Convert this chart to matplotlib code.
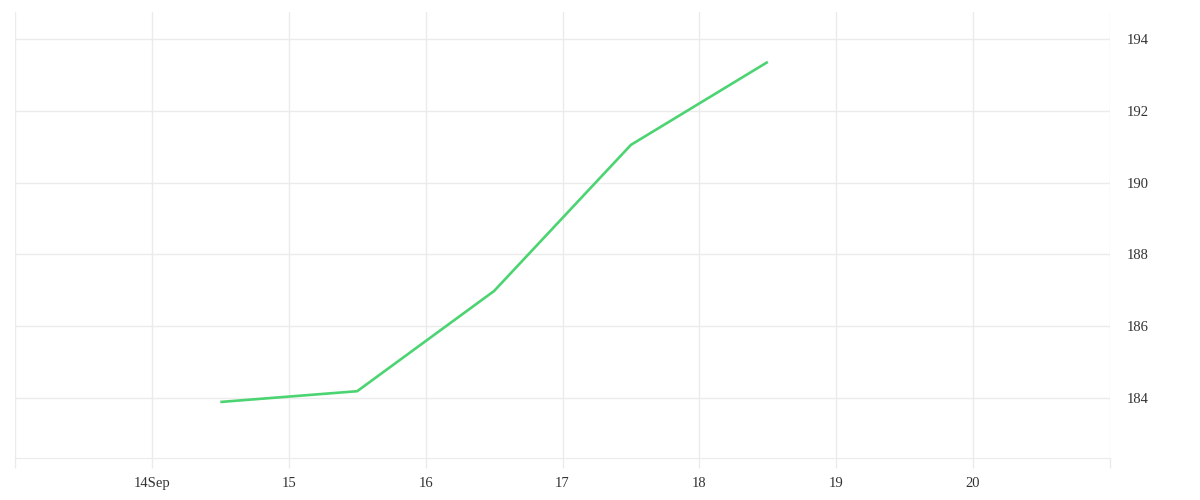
import matplotlib
matplotlib.use('Agg')
import matplotlib.pyplot as plt
import matplotlib.dates as mdates
from datetime import datetime

# values
dates = [datetime(2023, 9, 14, 12), datetime(2023, 9, 15, 12), datetime(2023, 9, 16, 12),
         datetime(2023, 9, 17, 12), datetime(2023, 9, 18, 12)]
values = [183.89, 184.19, 186.98, 191.05, 193.36]

tick_days = [datetime(2023, 9, d) for d in range(13, 22)]
tick_labels = ['', '14Sep', '15', '16', '17', '18', '19', '20', '']
y_ticks = [184, 186, 188, 190, 192, 194]

plt.rcParams['font.family'] = ['Liberation Serif', 'DejaVu Serif']

fig = plt.figure(figsize=(12, 5), dpi=100)
ax = fig.add_axes([0.0125, 0.084, 0.9125, 0.892])

grid_col = '#ebebeb'
ax.plot(dates, values, color='#4cd472', linewidth=1.9, solid_capstyle='butt')

ax.set_xlim(tick_days[0], tick_days[-1])
ax.set_ylim(182.33, 194.75)
ax.set_xticks(tick_days)
ax.set_xticklabels(tick_labels)
ax.set_yticks(y_ticks)
ax.yaxis.tick_right()

ax.grid(True, color=grid_col, linewidth=1)
for side in ['top', 'left', 'right']:
    ax.spines[side].set_visible(False)
ax.spines['bottom'].set_color(grid_col)

ax.tick_params(axis='x', length=7.5, width=1, color=grid_col, labelsize=10.5,
               labelcolor='#333333', pad=6)
ax.tick_params(axis='y', length=0, labelsize=10.5, labelcolor='#333333', pad=12)

fig.savefig('out.png', dpi=100, facecolor='white')
